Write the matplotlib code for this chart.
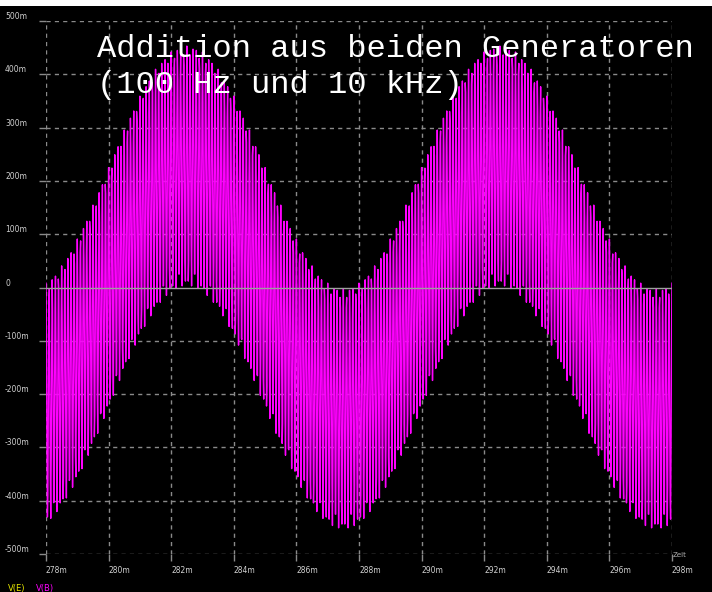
import numpy as np
import matplotlib
matplotlib.use('Agg')
import matplotlib.pyplot as plt

# ------------------------
# values
# ------------------------
t_start_ms = 278.0
t_stop_ms = 298.0
gen_freq_hz = [100.0, 10000.0]      # the two generators
gen_amp_v = [0.228, 0.225]          # peak amplitude of each generator
sim_step_ms = 0.1 / 6.6             # simulator step (gives the banding)
carrier_phase_deg = 90.0

xticks_ms = [278, 280, 282, 284, 286, 288, 290, 292, 294, 296, 298]
xtick_labels = ['278m', '280m', '282m', '284m', '286m', '288m', '290m',
                '292m', '294m', '296m', '298m']
yticks_v = [-0.5, -0.4, -0.3, -0.2, -0.1, 0.0, 0.1, 0.2, 0.3, 0.4, 0.5]
ytick_labels = ['-500m', '-400m', '-300m', '-200m', '-100m', '0',
                '100m', '200m', '300m', '400m', '500m']
title_lines = ['Addition aus beiden Generatoren', '(100 Hz und 10 kHz)']
legend_names = ['V(E)', 'V(B)']
legend_colors = ['#e8e800', '#ff00ff']

# ------------------------

W, H = 712, 592
t_ms = np.arange(t_start_ms, t_stop_ms + 1e-9, sim_step_ms)
t_s = t_ms / 1000.0
v_b = (gen_amp_v[0] * np.sin(2 * np.pi * gen_freq_hz[0] * t_s)
       + gen_amp_v[1] * np.sin(2 * np.pi * gen_freq_hz[1] * t_s
                               + np.deg2rad(carrier_phase_deg)))

fig = plt.figure(figsize=(W / 100, H / 100), dpi=100, facecolor='black')
# white strip along the top edge
fig.patches.append(plt.Rectangle((0, 1 - 6 / H), 1, 6 / H, transform=fig.transFigure,
                                 facecolor='white', edgecolor='none', zorder=0))

ax = fig.add_axes([46 / W, 1 - 554 / H, (672 - 46) / W, (554 - 21) / H])
ax.set_facecolor('black')
for s in ax.spines.values():
    s.set_visible(False)

ax.plot(t_ms, v_b, color='#ff00ff', lw=1.0, zorder=3)

ax.set_xlim(t_start_ms, t_stop_ms)
ax.set_ylim(-0.5, 0.5)
ax.set_xticks(xticks_ms)
ax.set_xticklabels(xtick_labels)
ax.set_yticks(yticks_v)
ax.set_yticklabels(ytick_labels)

grid_col = '#8a8a8a'
for x in xticks_ms:
    ax.axvline(x, color=grid_col, lw=1, ls=(0, (3, 3)), zorder=2)
for y in yticks_v:
    if y == 0:
        ax.axhline(y, color='#a0a0a0', lw=1, zorder=4)
    else:
        ax.axhline(y, color=grid_col, lw=1, ls=(0, (3, 3)), zorder=2)

ax.tick_params(axis='both', colors=grid_col, length=5, width=1, direction='out',
               labelsize=5.5, labelcolor='#d0d0d0')
for lab in ax.get_xticklabels():
    lab.set_horizontalalignment('left')
for lab in ax.get_yticklabels():
    lab.set_horizontalalignment('left')
    lab.set_verticalalignment('bottom')
    lab.set_x(-41 / (672 - 46))
    lab.set_transform(ax.get_yaxis_transform())

# title inside the plot
fig.text(97 / W, 1 - 57 / H, title_lines[0], family='Liberation Mono', fontsize=23.1,
         color='white', va='baseline', ha='left', zorder=10)
fig.text(97 / W, 1 - 93 / H, title_lines[1], family='Liberation Mono', fontsize=23.1,
         color='white', va='baseline', ha='left', zorder=10)

# axis name and trace names
fig.text(673 / W, 1 - 555 / H, 'Zeit', fontsize=5, color='#b0b0b0', ha='left', va='center')
fig.text(8 / W, 1 - 589 / H, legend_names[0], fontsize=6, color=legend_colors[0],
         ha='left', va='center')
fig.text(36 / W, 1 - 589 / H, legend_names[1], fontsize=6, color=legend_colors[1],
         ha='left', va='center')

fig.savefig('out.png', dpi=100, facecolor='black')
